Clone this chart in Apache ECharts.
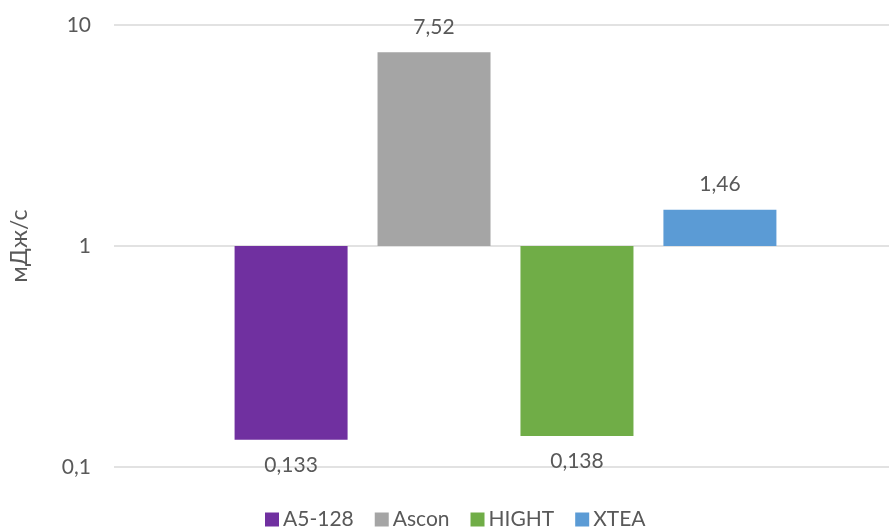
<!DOCTYPE html>
<html>
<head>
<meta charset="utf-8">
<script src="https://cdn.jsdelivr.net/npm/echarts@6/dist/echarts.min.js"></script>
<style>
  html, body { margin: 0; padding: 0; background: #fff; }
  #chart { width: 889px; height: 529px; }
</style>
</head>
<body>
<div id="chart"></div>
<script>
// Power consumption per cipher, mJ/s (log scale, bars grow from 1)
const seriesNames = ['A5-128', 'Ascon', 'HIGHT', 'XTEA'];
const seriesValues = [0.133, 7.52, 0.138, 1.46];
const seriesColors = ['#7030A0', '#A5A5A5', '#70AD47', '#5B9BD5'];
const categories = [''];
const yTicks = [0.1, 1, 10];

const FONT = 'Lato';
const TEXT = '#595959';
const commaNum = v => String(v).replace('.', ',');

const chart = echarts.init(document.getElementById('chart'), null, { renderer: 'canvas' });

const logAxis = (extra) => Object.assign({
  type: 'log',
  logBase: 10,
  min: yTicks[0],
  max: yTicks[yTicks.length - 1]
}, extra);

chart.setOption({
  animation: false,
  textStyle: { fontFamily: FONT },
  grid: [
    // axis labels and gridlines
    { left: 110, right: 0, top: 25, bottom: 62 },
    // bar area, same vertical scale
    { left: 122, right: 0, top: 25, bottom: 62 }
  ],
  legend: {
    data: seriesNames,
    left: 265,
    top: 509,
    padding: 0,
    itemWidth: 14,
    itemHeight: 14,
    itemGap: 21,
    icon: 'rect',
    textStyle: { fontFamily: FONT, fontSize: 21, color: TEXT, padding: [0, 0, 0, -1] }
  },
  xAxis: [0, 1].map(g => ({
    type: 'category',
    gridIndex: g,
    data: categories,
    axisLine: { show: false },
    axisTick: { show: false },
    axisLabel: { show: false },
    splitLine: { show: false }
  })),
  yAxis: [
    logAxis({
      gridIndex: 0,
      name: 'мДж/с',
      nameLocation: 'middle',
      nameRotate: 90,
      nameGap: 74,
      nameTextStyle: { fontFamily: FONT, fontSize: 23, color: TEXT, padding: [0, 0, 9, 0] },
      axisLine: { show: false },
      axisTick: { show: false },
      axisLabel: {
        fontFamily: FONT, fontSize: 21, color: TEXT, margin: 23,
        formatter: v => commaNum(v)
      },
      splitLine: { show: true, lineStyle: { color: '#D9D9D9', width: 1.5 } }
    }),
    logAxis({
      gridIndex: 1,
      axisLine: { show: false },
      axisTick: { show: false },
      axisLabel: { show: false },
      splitLine: { show: false }
    })
  ],
  series: seriesNames.map((name, i) => ({
    name,
    type: 'bar',
    xAxisIndex: 1,
    yAxisIndex: 1,
    data: [seriesValues[i]],
    barWidth: 113,
    barGap: '26.5%',
    itemStyle: { color: seriesColors[i] },
    label: {
      show: true,
      position: 'outside',
      distance: 15,
      fontFamily: FONT,
      fontSize: 21,
      color: TEXT,
      formatter: p => commaNum(p.value)
    }
  }))
});
</script>
</body>
</html>
